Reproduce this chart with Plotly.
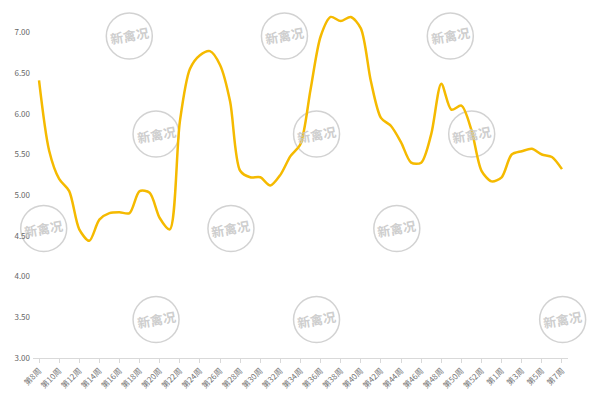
import plotly.graph_objects as go

weeks = [f"第{w}周" for w in list(range(8, 54)) + list(range(1, 8))]
tick_weeks = [f"第{w}周" for w in list(range(8, 53, 2)) + [1, 3, 5, 7]]
values = [6.41, 5.55, 5.2, 5.05, 4.58, 4.44, 4.7, 4.78, 4.79, 4.78,
          5.05, 5.03, 4.72, 4.58, 5.9, 6.55, 6.72, 6.77, 6.6, 6.15,
          5.3, 5.22, 5.22, 5.12, 5.25, 5.48, 5.63, 6.3, 6.95, 7.19,
          7.14, 7.19, 7.05, 6.4, 5.95, 5.85, 5.65, 5.4, 5.4, 5.75,
          6.37, 6.05, 6.1, 5.8, 5.3, 5.17, 5.22, 5.5, 5.54, 5.57,
          5.5, 5.47, 5.32]
y_ticks = [3.0, 3.5, 4.0, 4.5, 5.0, 5.5, 6.0, 6.5, 7.0]

fig = go.Figure(go.Scatter(x=weeks, y=values, mode="lines",
                           line=dict(color="#F5BA00", width=2.5, shape="spline", smoothing=0.8),
                           hoverinfo="skip"))

marks = [(0.18, 0.92), (0.47, 0.92), (0.78, 0.92), (0.23, 0.64), (0.53, 0.64), (0.82, 0.64),
         (0.02, 0.37), (0.37, 0.37), (0.68, 0.37), (0.23, 0.11), (0.53, 0.11), (0.99, 0.11)]
for mx, my in marks:
    fig.add_shape(type="circle", xref="paper", yref="paper",
                  x0=mx - 0.043, x1=mx + 0.043, y0=my - 0.066, y1=my + 0.066,
                  line=dict(color="rgba(205,205,205,0.9)", width=1.5), layer="below")
    fig.add_annotation(x=mx, y=my, xref="paper", yref="paper", text="<b>新禽况</b>", showarrow=False,
                       xanchor="center", yanchor="middle",
                       font=dict(size=13, color="rgba(200,200,200,0.9)", family="Noto Sans CJK SC"),
                       textangle=-10)

fig.update_layout(
    width=600, height=400, margin=dict(l=25, r=40, t=0, b=50),
    plot_bgcolor="white", paper_bgcolor="white", showlegend=False,
    font=dict(family="Noto Sans CJK SC", size=9, color="#666"),
    xaxis=dict(tickmode="array", tickvals=tick_weeks, ticktext=tick_weeks, tickangle=-45,
               showgrid=False, showline=True, linecolor="#d9d9d9", ticks="outside",
               tickcolor="#d9d9d9", ticklen=4, range=[-0.6, 52.6], automargin=False,
               tickfont=dict(size=8, color="#777")),
    yaxis=dict(range=[3, 7.3], tickvals=y_ticks, tickformat=".2f", showgrid=False,
               zeroline=False, showline=False, automargin=False, ticklabelstandoff=2,
               tickfont=dict(size=8, color="#666")),
)
fig.write_html("out.html")
